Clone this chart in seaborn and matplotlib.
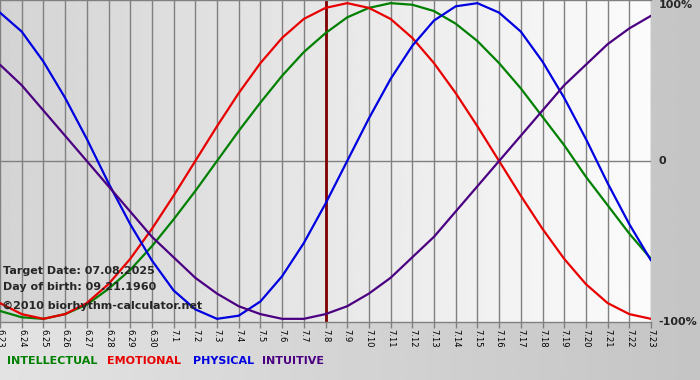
import numpy as np
import pandas as pd
import matplotlib
matplotlib.use("Agg")
import matplotlib.pyplot as plt
import seaborn as sns

# ==========================================
# DATOS
# ==========================================

days = ["6.23", "6.24", "6.25", "6.26", "6.27", "6.28", "6.29", "6.30",
        "7.1", "7.2", "7.3", "7.4", "7.5", "7.6", "7.7", "7.8", "7.9",
        "7.10", "7.11", "7.12", "7.13", "7.14", "7.15", "7.16", "7.17",
        "7.18", "7.19", "7.20", "7.21", "7.22", "7.23"]

intellectual = [-0.95, -0.99, -1.00, -0.97, -0.91, -0.81, -0.69, -0.54,
                -0.37, -0.19, 0.00, 0.19, 0.37, 0.54, 0.69, 0.81, 0.91,
                0.97, 1.00, 0.99, 0.95, 0.87, 0.76, 0.62, 0.46, 0.28,
                0.10, -0.10, -0.28, -0.46, -0.62]

emotional = [-0.90, -0.97, -1.00, -0.97, -0.90, -0.78, -0.62, -0.43,
             -0.22, 0.00, 0.22, 0.43, 0.62, 0.78, 0.90, 0.97, 1.00,
             0.97, 0.90, 0.78, 0.62, 0.43, 0.22, 0.00, -0.22, -0.43,
             -0.62, -0.78, -0.90, -0.97, -1.00]

physical = [0.94, 0.82, 0.63, 0.40, 0.14, -0.14, -0.40, -0.63,
            -0.82, -0.94, -1.00, -0.98, -0.89, -0.73, -0.52, -0.27, 0.00,
            0.27, 0.52, 0.73, 0.89, 0.98, 1.00, 0.94, 0.82, 0.63,
            0.40, 0.14, -0.14, -0.40, -0.63]

intuitive = [0.61, 0.48, 0.32, 0.16, 0.00, -0.16, -0.32, -0.48,
             -0.61, -0.74, -0.84, -0.92, -0.97, -1.00, -1.00, -0.97, -0.92,
             -0.84, -0.74, -0.61, -0.48, -0.32, -0.16, 0.00, 0.16, 0.32,
             0.48, 0.61, 0.74, 0.84, 0.92]

target_day = "7.8"
target_text = "Target Date: 07.08.2025"
birth_text = "Day of birth: 09.21.1960"
copy_text = "\u00a92010 biorhythm-calculator.net"

series_names = ["INTELLECTUAL", "EMOTIONAL", "PHYSICAL", "INTUITIVE"]
colores = {
    "INTELLECTUAL": "#008000",
    "EMOTIONAL": "#e80000",
    "PHYSICAL": "#0000e0",
    "INTUITIVE": "#4b0082",
}

# ==========================================
# TABLA LARGA
# ==========================================

idx = np.arange(len(days))
df = pd.concat([
    pd.DataFrame({"idx": idx, "valor": vals, "ciclo": nombre})
    for nombre, vals in zip(series_names,
                            [intellectual, emotional, physical, intuitive])
])

# ==========================================
# FIGURA
# ==========================================

sns.set_style("white")
plt.rcParams["font.family"] = ["DejaVu Sans"]

fig = plt.figure(figsize=(7, 3.8), dpi=100)

# fondo general (gradiente gris)
bg = fig.add_axes([0, 0, 1, 1], zorder=-2)
grad_fig = np.linspace(0.89, 0.77, 256).reshape(1, -1)
bg.imshow(grad_fig, extent=[0, 1, 0, 1], aspect="auto",
          cmap="gray", vmin=0, vmax=1)
bg.axis("off")

ax = fig.add_axes([0, 1 - 322 / 380, 651 / 700, 322 / 380], zorder=1)
ax.patch.set_alpha(0)

ymin, ymax = -1.02, 1.02
xmax = len(days) - 1

grad_ax = np.linspace(0.83, 0.985, 256).reshape(1, -1)
ax.imshow(grad_ax, extent=[0, xmax, ymin, ymax], aspect="auto",
          cmap="gray", vmin=0, vmax=1, zorder=0)

# lineas verticales por dia y linea del cero
for i in idx:
    ax.axvline(i, color="#808080", lw=1, zorder=1)
ax.axhline(0, color="#808080", lw=1, zorder=1)

# dia objetivo
ax.axvline(days.index(target_day), color="#800000", lw=2, zorder=2)

sns.lineplot(
    data=df,
    x="idx",
    y="valor",
    hue="ciclo",
    hue_order=series_names,
    palette=colores,
    linewidth=1.6,
    legend=False,
    ax=ax,
    zorder=3
)

ax.set_xlim(0, xmax)
ax.set_ylim(ymin, ymax)
ax.set_xlabel("")
ax.set_ylabel("")

ax.set_xticks(idx)
ax.set_xticklabels(days, rotation=270, fontsize=6, color="black")
ax.tick_params(axis="x", direction="out", length=4, width=1,
               color="#808080", pad=1, bottom=True)
ax.set_yticks([])

for lado in ["left", "right"]:
    ax.spines[lado].set_visible(False)
for lado in ["top", "bottom"]:
    ax.spines[lado].set_color("#808080")
    ax.spines[lado].set_linewidth(1)

# etiquetas de porcentaje a la derecha
ax.text(1.012, 0.985, "100%", transform=ax.transAxes, fontsize=8,
        fontweight="bold", va="center", ha="left")
ax.text(1.012, 0.5, "0", transform=ax.transAxes, fontsize=8,
        fontweight="bold", va="center", ha="left")
ax.text(1.012, 0.0, "-100%", transform=ax.transAxes, fontsize=8,
        fontweight="bold", va="center", ha="left")

# textos de informacion
fig.text(3 / 700, 1 - 271 / 380, target_text, fontsize=8,
         fontweight="bold", va="center", ha="left", zorder=5)
fig.text(3 / 700, 1 - 287 / 380, birth_text, fontsize=8,
         fontweight="bold", va="center", ha="left", zorder=5)
fig.text(2 / 700, 1 - 306 / 380, copy_text, fontsize=8,
         fontweight="bold", va="center", ha="left", zorder=5)

# leyenda inferior
pos_x = [7, 107, 193, 262]
for nombre, x in zip(series_names, pos_x):
    fig.text(x / 700, 1 - 361 / 380, nombre, color=colores[nombre],
             fontsize=8, fontweight="bold", va="center", ha="left")

fig.savefig("out.png", dpi=100)
plt.close(fig)
